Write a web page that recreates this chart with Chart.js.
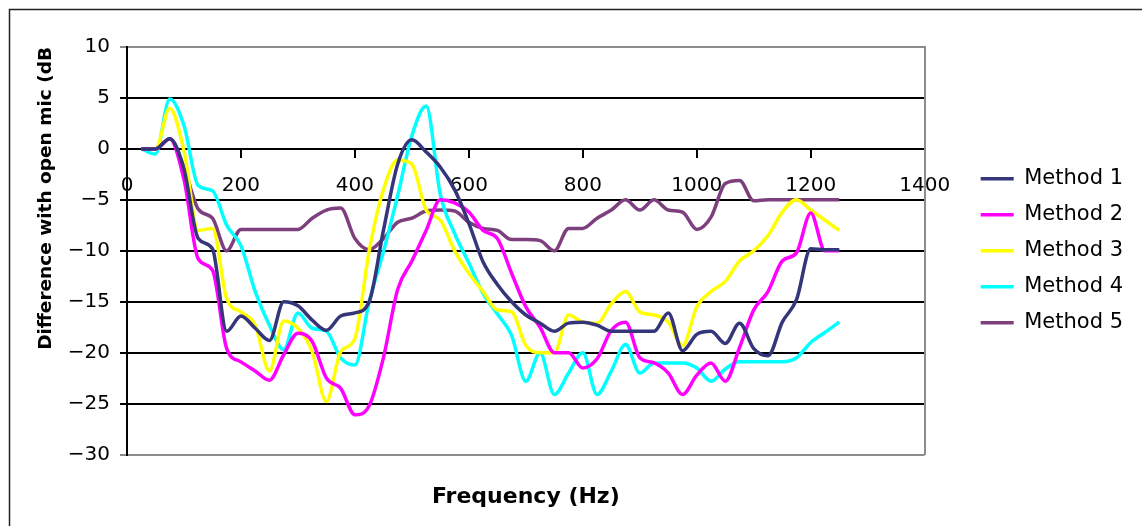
<!DOCTYPE html>
<html>
<head>
<meta charset="utf-8">
<script src="https://cdn.jsdelivr.net/npm/chart.js@4.4.1/dist/chart.umd.min.js"></script>
<style>
  html, body { margin: 0; padding: 0; background: #fff; }
  #wrap { position: relative; width: 1142px; height: 526px; }
</style>
</head>
<body>
<div id="wrap"><canvas id="chart"></canvas></div>
<script>
// Frequency points (Hz)
const freqs = [
  25, 50, 75, 100, 125, 150, 175, 200, 225, 250,
  275, 300, 325, 350, 375, 400, 425, 450, 475, 500,
  525, 550, 575, 600, 625, 650, 675, 700, 725, 750,
  775, 800, 825, 850, 875, 900, 925, 950, 975, 1000,
  1025, 1050, 1075, 1100, 1125, 1150, 1175, 1200, 1225, 1250
];

// Difference with open mic (dB) per method
const method1 = [
  0, 0, 1.0, -2.0, -8.8, -9.8, -17.9, -16.4, -17.6, -18.8,
  -15.0, -15.4, -16.8, -17.8, -16.4, -16.1, -15.0, -8.0, -1.5, 0.9,
  -0.3, -1.8, -4.0, -7.3, -11.1, -13.3, -15.0, -16.3, -17.1, -17.9,
  -17.1, -17.0, -17.3, -17.9, -17.9, -17.9, -17.9, -16.1, -19.8, -18.2,
  -17.9, -19.1, -17.1, -19.6, -20.3, -17.0, -14.8, -9.8, -9.9, -9.9
];
const method2 = [
  0, 0, 1.0, -3.0, -10.8, -11.9, -19.6, -20.9, -21.8, -22.7,
  -20.2, -18.1, -18.9, -22.5, -23.5, -26.1, -25.2, -20.5, -13.8, -11.0,
  -8.0, -5.0, -5.3, -6.2, -8.0, -8.8, -12.2, -15.5, -17.5, -20.0,
  -20.0, -21.5, -20.6, -17.8, -17.0, -20.5, -21.0, -22.0, -24.1, -22.2,
  -21.0, -22.8, -19.5, -15.8, -14.0, -11.0, -10.2, -6.3, -10.0, -10.0
];
const method3 = [
  0, 0, 4.0, -0.2, -8.0, -7.8, -14.7, -16.0, -17.3, -21.8,
  -16.9, -17.6, -19.9, -24.8, -19.9, -18.6, -10.0, -4.0, -1.1, -1.5,
  -6.0, -7.0, -10.0, -12.2, -14.0, -15.8, -16.0, -19.3, -20.0, -20.0,
  -16.3, -17.0, -17.1, -15.2, -14.0, -16.0, -16.3, -17.0, -19.3, -15.5,
  -14.0, -13.0, -11.0, -10.0, -8.5, -6.2, -5.0, -6.0, -7.0, -8.0
];
const method4 = [
  0, -0.5, 4.9, 2.3, -3.6, -4.1, -7.5, -9.5, -14.0, -17.3,
  -19.7, -16.1, -17.6, -17.9, -20.5, -21.2, -15.0, -10.1, -4.6, 1.3,
  4.2, -4.5, -8.3, -11.2, -14.2, -16.2, -18.3, -22.8, -20.0, -24.1,
  -22.0, -20.0, -24.1, -21.8, -19.2, -22.0, -21.0, -21.0, -21.0, -21.5,
  -22.8, -21.6, -20.9, -20.9, -20.9, -20.9, -20.5, -19.0, -18.0, -17.0
];
const method5 = [
  0, 0, 1.0, -1.8, -5.9, -6.8, -10.0, -7.9, -7.9, -7.9,
  -7.9, -7.9, -6.8, -6.0, -5.8, -8.8, -9.9, -8.8, -7.2, -6.8,
  -6.1, -6.0, -6.1, -7.2, -7.8, -8.0, -8.9, -8.9, -9.0, -10.0,
  -7.8, -7.8, -6.8, -6.0, -5.0, -6.0, -5.0, -6.0, -6.2, -7.9,
  -6.7, -3.4, -3.1, -5.1, -5.0, -5.0, -5.0, -5.0, -5.0, -5.0
];

const seriesNames = ['Method 1', 'Method 2', 'Method 3', 'Method 4', 'Method 5'];
const seriesColors = ['#35357a', '#ff00ff', '#ffff00', '#00ffff', '#7d3f7d'];
const seriesValues = [method1, method2, method3, method4, method5];

const FONT = "'DejaVu Sans', Verdana, sans-serif";

// thin frame around the whole figure (right/bottom edges fall off the canvas)
const framePlugin = {
  id: 'frame',
  afterDraw(chart) {
    const ctx = chart.ctx;
    ctx.save();
    ctx.strokeStyle = '#222';
    ctx.lineWidth = 1.5;
    ctx.strokeRect(9.5, 9.5, 1150, 530);
    ctx.restore();
  }
};

const datasets = seriesNames.map((name, i) => ({
  label: name,
  data: freqs.map((f, j) => ({ x: f, y: seriesValues[i][j] })),
  borderColor: seriesColors[i],
  backgroundColor: seriesColors[i],
  borderWidth: 3.5,
  pointRadius: 0,
  cubicInterpolationMode: 'monotone',
  fill: false,
}));

new Chart(document.getElementById('chart'), {
  type: 'line',
  data: { datasets },
  plugins: [framePlugin],
  options: {
    responsive: true,
    maintainAspectRatio: false,
    animation: false,
    layout: { padding: { left: 9, right: 9, top: 47, bottom: 0 } },
    plugins: {
      tooltip: { enabled: false },
      legend: {
        position: 'right',
        fullSize: false,
        labels: {
          usePointStyle: true,
          pointStyle: 'line',
          pointStyleWidth: 33,
          padding: 15,
          color: '#000',
          font: { family: FONT, size: 21 },
        },
      },
    },
    scales: {
      x: {
        type: 'linear',
        position: { y: 0 },
        min: 0,
        max: 1400,
        grid: { drawOnChartArea: false, color: '#000', lineWidth: 2, tickLength: 8 },
        border: { color: '#000', width: 2 },
        ticks: {
          stepSize: 200,
          autoSkip: false,
          maxRotation: 0,
          padding: 17,
          color: '#000',
          font: { family: FONT, size: 20 },
          callback: v => String(v),
        },
      },
      // bottom axis that only carries the frequency title
      x2: {
        type: 'linear',
        position: 'bottom',
        grid: { display: false, drawTicks: false },
        border: { display: false },
        ticks: { display: false },
        title: {
          display: true,
          text: 'Frequency (Hz)',
          color: '#000',
          font: { family: FONT, size: 22, weight: 'bold' },
          padding: { top: 29, bottom: 16 },
        },
      },
      y: {
        type: 'linear',
        min: -30,
        max: 10,
        afterFit(scale) { scale.width = 118; },
        grid: {
          color: ctx => (ctx.tick && (ctx.tick.value === 10 || ctx.tick.value === -30)) ? '#8c8c8c' : '#000',
          lineWidth: 2,
          tickLength: 7,
        },
        border: { color: '#000', width: 2 },
        ticks: {
          stepSize: 5,
          padding: 10,
          color: '#000',
          font: { family: FONT, size: 20 },
          callback: v => String(v).replace('-', '\u2212'),
        },
        title: {
          display: true,
          text: 'Difference with open mic (dB',
          align: 'end',
          color: '#000',
          font: { family: FONT, size: 18.5, weight: 'bold' },
          padding: { top: 26, bottom: 0 },
        },
      },
      // right-hand edge of the plot area, spacing before the legend
      yR: {
        type: 'linear',
        position: 'right',
        afterFit(scale) { scale.width = 41; },
        grid: { display: false, drawTicks: false },
        border: { display: true, color: '#8c8c8c', width: 2 },
        ticks: { display: false },
      },
    },
  },
});
</script>
</body>
</html>
